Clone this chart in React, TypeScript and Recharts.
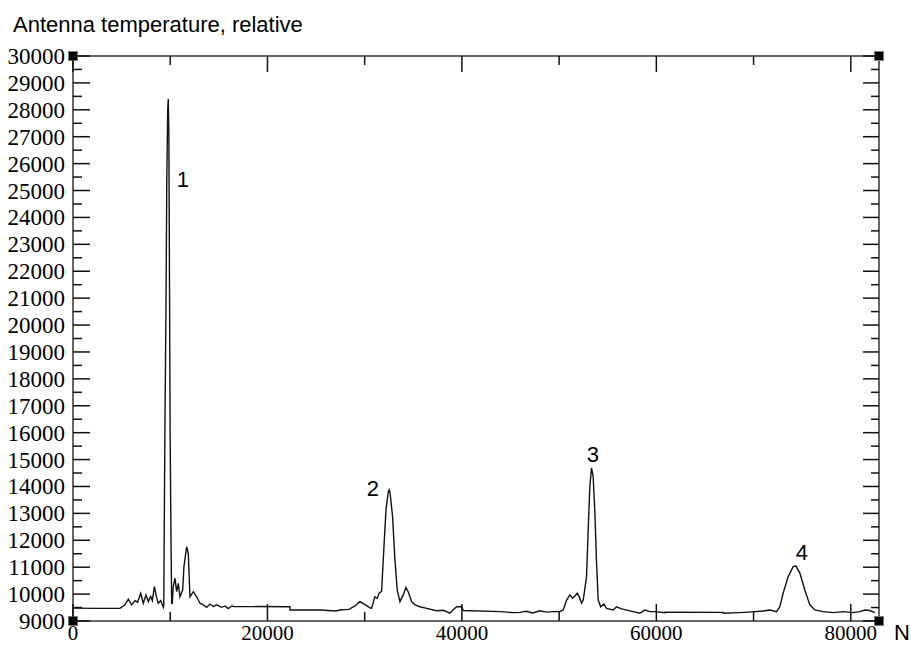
import React from 'react';
import { LineChart, Line, XAxis, YAxis, ReferenceDot } from 'recharts';

// Scan position (sample number N)
const sampleN = [
  0, 2500, 4830, 5350, 5690, 6030, 6380, 6650, 6960, 7230, 7510, 7750, 7990, 8160, 8370, 8610, 8770, 9020, 9290,
  9340, 9360, 9450, 9560, 9650, 9740, 9800, 9860, 9920, 9990, 10080, 10150, 10210, 10310, 10490, 10660, 10830,
  11000, 11280, 11410, 11690, 11860, 12030, 12370, 12720, 13060, 13400, 13750, 14090, 14430, 14780, 15290, 15630,
  15970, 16320, 16560, 22310, 22320, 25570, 26200, 27000, 27600, 28400, 29000, 29510, 30000, 30500, 30710, 31050,
  31290, 31480, 31740, 31910, 32190, 32430, 32530, 32600, 32870, 33110, 33350, 33630, 33970, 34240, 34480, 34830,
  35170, 35680, 36370, 37400, 38100, 38770, 39080, 39460, 39970, 40140, 43910, 45280, 45970, 46600, 47300, 48000,
  48700, 49400, 50080, 50420, 50770, 51110, 51380, 51620, 51860, 52070, 52310, 52480, 52820, 52990, 53160, 53330,
  53500, 53680, 53850, 54020, 54270, 54600, 54880, 55560, 55910, 56420, 57620, 58310, 58820, 59330, 59850, 60880,
  60890, 66870, 66880, 68500, 69500, 70990, 71670, 72360, 72700, 73040, 73560, 74070, 74350, 74760, 75270, 75790,
  76300, 77160, 78190, 79210, 80240, 80930, 81440, 81960, 82480,
];

// Relative antenna temperature at each sample
const antennaTemp = [
  9480, 9470, 9475, 9600, 9810, 9600, 9760, 9700, 10030, 9660, 9970, 9720, 9910, 9760, 10280, 9850, 9660, 9760, 9510,
  9600, 11000, 16000, 20500, 25500, 28000, 28400, 27000, 22000, 16000, 12000, 9650, 9660, 10280, 10590, 10090, 10400,
  9900, 10150, 11020, 11760, 11500, 9900, 10090, 9900, 9660, 9600, 9510, 9630, 9540, 9600, 9510, 9560,
  9460, 9560, 9540, 9530, 9410, 9410, 9390, 9370, 9420, 9430, 9560, 9720, 9620, 9500, 9470, 9900,
  9840, 10030, 10100, 11270, 13130, 13810, 13880, 13800, 12880, 11270, 10150, 9720, 9970, 10250, 10090, 9720,
  9600, 9530, 9470, 9380, 9400, 9290, 9410, 9530, 9530, 9390, 9350, 9310, 9320, 9360, 9300, 9380,
  9330, 9350, 9350, 9410, 9780, 9970, 9845, 9930, 10030, 9905, 9660, 9780, 10650, 12390, 14000, 14690,
  14370, 13010, 11150, 9780, 9530, 9630, 9470, 9410, 9530, 9450, 9350, 9290, 9410, 9350, 9350, 9310,
  9330, 9320, 9290, 9310, 9330, 9370, 9410, 9350, 9530, 10030, 10650, 11020, 11050, 10780, 10150, 9600,
  9410, 9350, 9310, 9350, 9310, 9350, 9410, 9390, 9310,
];

const xTicks = [0, 10000, 20000, 30000, 40000, 50000, 60000, 70000, 80000];
const yTicks = [
  9000, 9500, 10000, 10500, 11000, 11500, 12000, 12500, 13000, 13500, 14000, 14500, 15000, 15500, 16000, 16500,
  17000, 17500, 18000, 18500, 19000, 19500, 20000, 20500, 21000, 21500, 22000, 22500, 23000, 23500, 24000, 24500,
  25000, 25500, 26000, 26500, 27000, 27500, 28000, 28500, 29000, 29500, 30000,
];

// Peak annotations
const peakNames = ['1', '2', '3', '4'];
const peakLabelN = [11310, 30850, 53470, 74960];
const peakLabelT = [25400, 13910, 15170, 11530];

const X_MAX = 82900;
const Y_MIN = 9000;
const Y_MAX = 30000;
const corners = [
  [0, Y_MAX],
  [X_MAX, Y_MAX],
  [0, Y_MIN],
  [X_MAX, Y_MIN],
];

const rows = sampleN.map((n, i) => ({ n, t: antennaTemp[i] }));

const SERIF = '"Liberation Serif", "Times New Roman", serif';
const SANS = '"Liberation Sans", Arial, sans-serif';
const TICK = '#111';
const AXIS = { stroke: '#666', strokeWidth: 2 };

const LeftTick = (props: any) => {
  const { x, y, payload } = props;
  const major = payload.value % 1000 === 0;
  return (
    <g>
      <line x1={x} x2={x + (major ? 17 : 9)} y1={y} y2={y} stroke={TICK} strokeWidth={1.5} />
      {major && (
        <text x={x - 8} y={y} dy={8} textAnchor="end" fontFamily={SERIF} fontSize={23} fill="#000">
          {payload.value}
        </text>
      )}
    </g>
  );
};

const RightTick = (props: any) => {
  const { x, y, payload } = props;
  const major = payload.value % 1000 === 0;
  return <line x1={x} x2={x - (major ? 16 : 8)} y1={y} y2={y} stroke={TICK} strokeWidth={1.5} />;
};

const BottomTick = (props: any) => {
  const { x, y, payload } = props;
  const major = payload.value % 20000 === 0;
  return (
    <g>
      <line x1={x} x2={x} y1={y} y2={y - (major ? 17 : 9)} stroke={TICK} strokeWidth={1.5} />
      {major && (
        <text x={x} y={y} dy={19} textAnchor="middle" fontFamily={SERIF} fontSize={21} fill="#000">
          {payload.value}
        </text>
      )}
    </g>
  );
};

const TopTick = (props: any) => {
  const { x, y, payload } = props;
  const major = payload.value % 20000 === 0;
  return <line x1={x} x2={x} y1={y} y2={y + (major ? 16 : 9)} stroke={TICK} strokeWidth={1.5} />;
};

const CornerMark = (props: any) => {
  const { cx, cy } = props;
  return <rect x={cx - 4.5} y={cy - 4.5} width={9} height={9} fill="#000" stroke="#777" strokeWidth={1} />;
};

const makePeakLabel = (text: string) => (props: any) => {
  const { cx, cy } = props;
  return (
    <text x={cx} y={cy} textAnchor="middle" dominantBaseline="central" fontFamily={SANS} fontSize={22} fill="#000">
      {text}
    </text>
  );
};

export default function App() {
  return (
    <div style={{ position: 'absolute', left: 0, top: 0, width: 911, height: 646, background: '#fff' }}>
      <LineChart width={911} height={646} data={rows} margin={{ top: 0, right: 0, bottom: 0, left: 0 }}>
        <XAxis
          xAxisId="bottom"
          dataKey="n"
          type="number"
          domain={[0, X_MAX]}
          ticks={xTicks}
          interval={0}
          height={25}
          tickSize={0}
          tickMargin={0}
          tickLine={false}
          axisLine={AXIS}
          tick={<BottomTick />}
          allowDataOverflow
        />
        <XAxis
          xAxisId="top"
          orientation="top"
          dataKey="n"
          type="number"
          domain={[0, X_MAX]}
          ticks={xTicks}
          interval={0}
          height={56}
          tickSize={0}
          tickMargin={0}
          tickLine={false}
          axisLine={AXIS}
          tick={<TopTick />}
          allowDataOverflow
        />
        <YAxis
          yAxisId="left"
          type="number"
          domain={[Y_MIN, Y_MAX]}
          ticks={yTicks}
          interval={0}
          width={73}
          tickSize={0}
          tickMargin={0}
          tickLine={false}
          axisLine={AXIS}
          tick={<LeftTick />}
          allowDataOverflow
        />
        <YAxis
          yAxisId="right"
          orientation="right"
          type="number"
          domain={[Y_MIN, Y_MAX]}
          ticks={yTicks}
          interval={0}
          width={32}
          tickSize={0}
          tickMargin={0}
          tickLine={false}
          axisLine={AXIS}
          tick={<RightTick />}
          allowDataOverflow
        />
        <Line
          xAxisId="bottom"
          yAxisId="left"
          dataKey="t"
          type="linear"
          stroke="#111"
          strokeWidth={1.4}
          dot={false}
          activeDot={false}
          isAnimationActive={false}
        />
        <Line
          xAxisId="top"
          yAxisId="right"
          dataKey="t"
          type="linear"
          stroke="none"
          strokeWidth={0}
          dot={false}
          activeDot={false}
          isAnimationActive={false}
        />
        {peakNames.map((name, i) => (
          <ReferenceDot
            key={name}
            xAxisId="bottom"
            yAxisId="left"
            x={peakLabelN[i]}
            y={peakLabelT[i]}
            ifOverflow="visible"
            shape={makePeakLabel(name)}
          />
        ))}
        {corners.map(([cx, cy], i) => (
          <ReferenceDot
            key={`corner-${i}`}
            xAxisId="bottom"
            yAxisId="left"
            x={cx}
            y={cy}
            ifOverflow="visible"
            shape={<CornerMark />}
          />
        ))}
      </LineChart>
      <svg
        width={911}
        height={646}
        style={{ position: 'absolute', left: 0, top: 0, pointerEvents: 'none' }}
      >
        <text x={13} y={32} fontFamily={SANS} fontSize={22} fill="#000">
          Antenna temperature, relative
        </text>
        <text x={902} y={640} textAnchor="middle" fontFamily={SANS} fontSize={22} fill="#000">
          N
        </text>
      </svg>
    </div>
  );
}
